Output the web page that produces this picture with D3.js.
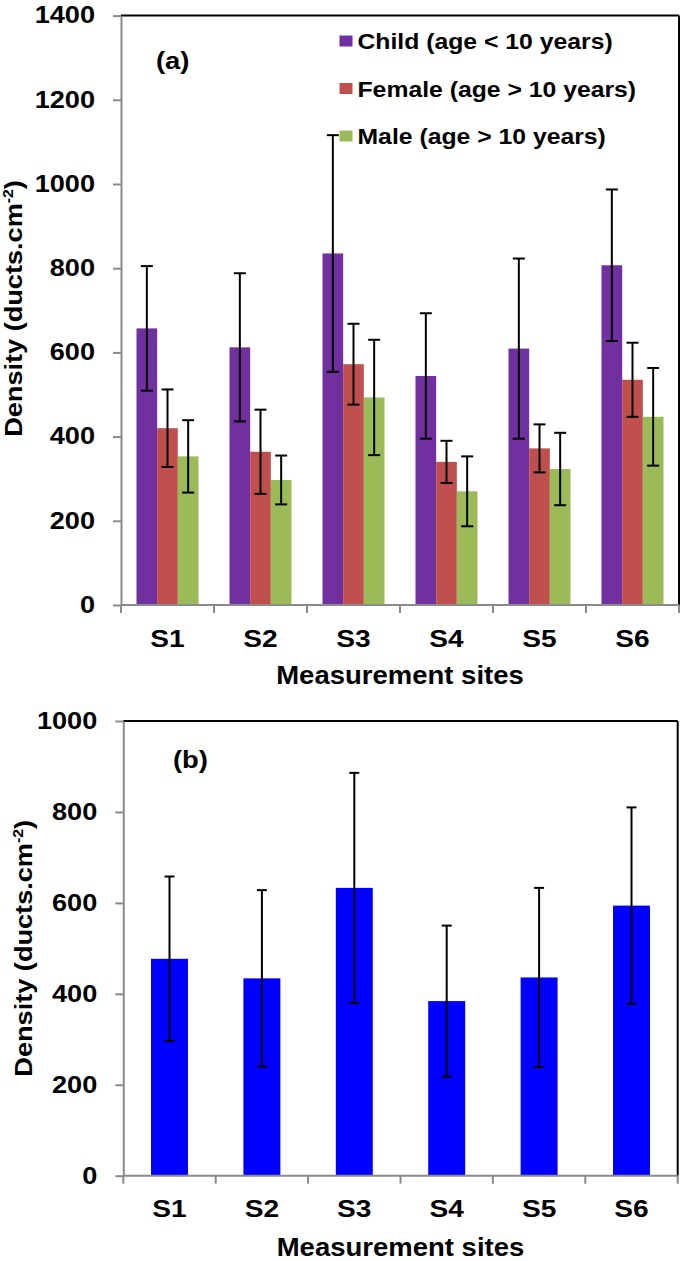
<!DOCTYPE html>
<html>
<head>
<meta charset="utf-8">
<script src="https://cdn.jsdelivr.net/npm/d3@7/dist/d3.min.js"></script>
<style>
  html, body { margin: 0; padding: 0; background: #fff; }
  svg { display: block; }
  text { font-family: "Liberation Sans", Arial, sans-serif; font-weight: bold; fill: #000; }
</style>
</head>
<body>
<svg id="chart" width="685" height="1261"></svg>
<script>
// ---------- data ----------
const sites = ["S1", "S2", "S3", "S4", "S5", "S6"];
const seriesNames = ["Child (age < 10 years)", "Female (age > 10 years)", "Male (age > 10 years)"];
const childValues = [657, 612, 835, 544, 609, 807];
const childErrors = [148, 176, 281, 149, 214, 180];
const femaleValues = [420, 364, 572, 340, 372, 535];
const femaleErrors = [92, 100, 96, 50, 57, 88];
const maleValues = [353, 297, 493, 270, 323, 447];
const maleErrors = [86, 58, 137, 83, 86, 116];
const overallValues = [477, 434, 633, 384, 436, 594];
const overallErrors = [181, 194, 253, 166, 197, 216];
const topTicks = [0, 200, 400, 600, 800, 1000, 1200, 1400];
const bottomTicks = [0, 200, 400, 600, 800, 1000];
const seriesColors = ["#7030A0", "#C0504D", "#9BBB59"];
const barColor = "#0000FF";

const svg = d3.select("#chart");
const AXIS_GRAY = "#8a8a8a";

function stretch(sel, k) {
  sel.each(function () {
    const w = this.getComputedTextLength();
    this.setAttribute("textLength", w * k);
    this.setAttribute("lengthAdjust", "spacingAndGlyphs");
  });
}

function drawPanel(cfg) {
  const g = svg.append("g");
  const x = d3.scaleBand().domain(sites).range([cfg.left, cfg.right])
    .paddingInner(cfg.pad).paddingOuter(cfg.pad / 2);
  const y = d3.scaleLinear().domain([0, cfg.max]).range([cfg.bottom, cfg.top]);

  const groups = cfg.series;
  const xs = d3.scaleBand().domain(d3.range(groups.length)).range([0, x.bandwidth()]).padding(0);
  groups.forEach((s, si) => {
    const data = sites.map((site, i) => ({ site, v: s.values[i], e: s.errors[i] }));
    g.append("g").selectAll("rect").data(data).join("rect")
      .attr("x", d => x(d.site) + xs(si))
      .attr("width", xs.bandwidth())
      .attr("y", d => y(d.v))
      .attr("height", d => y(0) - y(d.v))
      .attr("fill", s.color);
  });

  g.append("line").attr("x1", cfg.left).attr("x2", cfg.right).attr("y1", y(cfg.max)).attr("y2", y(cfg.max))
    .attr("stroke", "#000").attr("stroke-width", 2);
  g.append("line").attr("x1", cfg.right).attr("x2", cfg.right).attr("y1", y(cfg.max)).attr("y2", y(0))
    .attr("stroke", "#000").attr("stroke-width", 2);

  const ya = g.append("g").attr("transform", `translate(${cfg.left},0)`)
    .call(d3.axisLeft(y).tickValues(cfg.ticks).tickSize(8).tickSizeOuter(0).tickPadding(18).tickFormat(d3.format("d")));
  ya.attr("font-family", null).attr("font-size", null);
  ya.select(".domain").attr("stroke", AXIS_GRAY).attr("stroke-width", 2);
  ya.selectAll(".tick line").attr("stroke", AXIS_GRAY).attr("stroke-width", 2);
  ya.selectAll(".tick text").attr("font-size", 23).attr("fill", "#000");
  stretch(ya.selectAll(".tick text"), 1.18);

  g.append("line").attr("x1", cfg.left).attr("x2", cfg.right).attr("y1", y(0)).attr("y2", y(0))
    .attr("stroke", AXIS_GRAY).attr("stroke-width", 2);
  const bounds = sites.map(s => x(s) - x.step() * cfg.pad / 2).concat([x(sites[5]) + x.bandwidth() + x.step() * cfg.pad / 2]);
  g.append("g").selectAll("line").data(bounds).join("line")
    .attr("x1", d => d).attr("x2", d => d).attr("y1", y(0)).attr("y2", y(0) + 8)
    .attr("stroke", AXIS_GRAY).attr("stroke-width", 2);

  groups.forEach((s, si) => {
    const data = sites.map((site, i) => ({ site, v: s.values[i], e: s.errors[i] }));
    const cx = d => x(d.site) + xs(si) + xs.bandwidth() / 2;
    const eg = g.append("g").attr("stroke", "#000").attr("stroke-width", 2);
    eg.selectAll("line.v").data(data).join("line").attr("class", "v")
      .attr("x1", cx).attr("x2", cx).attr("y1", d => y(d.v + d.e)).attr("y2", d => y(d.v - d.e));
    eg.selectAll("line.t").data(data).join("line").attr("class", "t")
      .attr("x1", d => cx(d) - cfg.cap / 2).attr("x2", d => cx(d) + cfg.cap / 2)
      .attr("y1", d => y(d.v + d.e)).attr("y2", d => y(d.v + d.e));
    eg.selectAll("line.b").data(data).join("line").attr("class", "b")
      .attr("x1", d => cx(d) - cfg.cap / 2).attr("x2", d => cx(d) + cfg.cap / 2)
      .attr("y1", d => y(d.v - d.e)).attr("y2", d => y(d.v - d.e));
  });

  const xl = g.append("g").selectAll("text").data(sites).join("text")
    .attr("x", d => x(d) + x.bandwidth() / 2).attr("y", cfg.xLabelY)
    .attr("text-anchor", "middle").attr("font-size", 24).text(d => d);
  stretch(xl, 1.17);

  const xt = g.append("text").attr("x", (cfg.left + cfg.right) / 2).attr("y", cfg.xTitleY)
    .attr("text-anchor", "middle").attr("font-size", 25).text("Measurement sites");
  stretch(xt, 1.1);

  const yt = g.append("text")
    .attr("transform", `translate(${cfg.yTitleX},${cfg.yTitleY}) rotate(-90)`)
    .attr("text-anchor", "middle").attr("font-size", 24);
  yt.append("tspan").text("Density (ducts.cm");
  yt.append("tspan").attr("font-size", 14).attr("dy", -9).text("-2");
  yt.append("tspan").attr("dy", 9).text(")");
  stretch(yt, 1.13);

  const pl = g.append("text").attr("x", cfg.labelX).attr("y", cfg.labelY)
    .attr("font-size", 23).text(cfg.label);
  stretch(pl, 1.19);

  return { g, x, y };
}

// ---------- panel (a) ----------
drawPanel({
  left: 121, right: 679, top: 15.6, bottom: 605, max: 1400, ticks: topTicks, pad: 1 / 3,
  series: [
    { values: childValues, errors: childErrors, color: seriesColors[0] },
    { values: femaleValues, errors: femaleErrors, color: seriesColors[1] },
    { values: maleValues, errors: maleErrors, color: seriesColors[2] }
  ],
  cap: 12, xLabelY: 647, xTitleY: 684, yTitleX: 22, yTitleY: 308.5,
  label: "(a)", labelX: 156, labelY: 69
});

const legendRows = [41, 88.5, 136];
const lg = svg.append("g");
seriesNames.forEach((name, i) => {
  lg.append("rect").attr("x", 339.5).attr("y", legendRows[i] - 5.5).attr("width", 13).attr("height", 11)
    .attr("fill", seriesColors[i]);
  const t = lg.append("text").attr("x", 357.5).attr("y", legendRows[i] + 8)
    .attr("font-size", 22.5).text(name);
  stretch(t, 1.1);
});

// ---------- panel (b) ----------
drawPanel({
  left: 123.3, right: 677.7, top: 721, bottom: 1175.7, max: 1000, ticks: bottomTicks, pad: 0.6,
  series: [{ values: overallValues, errors: overallErrors, color: barColor }],
  cap: 10, xLabelY: 1217, xTitleY: 1256, yTitleX: 32, yTitleY: 948.3,
  label: "(b)", labelX: 173, labelY: 768
});
</script>
</body>
</html>
